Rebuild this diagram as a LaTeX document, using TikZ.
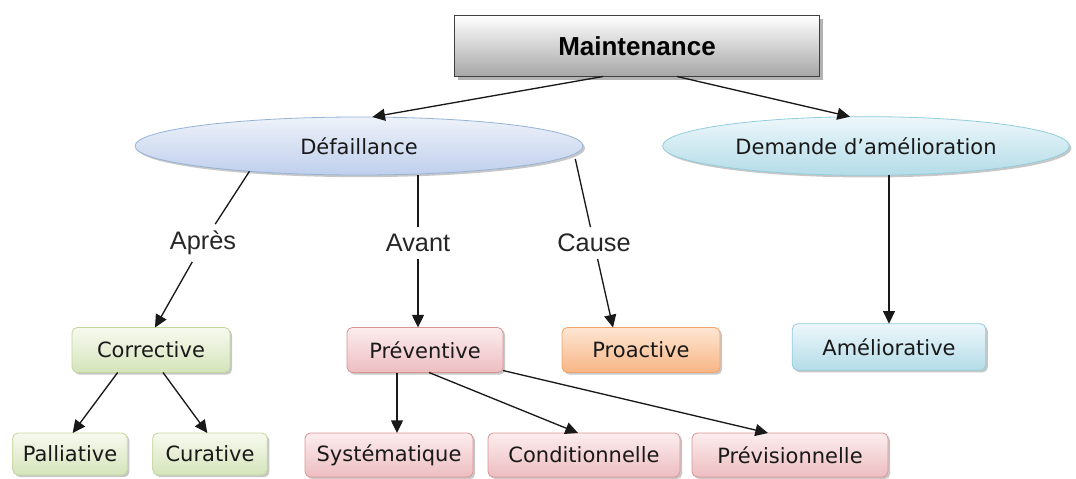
\documentclass[tikz,border=0pt]{standalone}
\usepackage{fontspec}
\setmainfont{DejaVu Sans}
\newfontfamily\labelfont{Liberation Sans}
\usetikzlibrary{arrows.meta,shapes.geometric,shadows}

\definecolor{greyTop}{HTML}{FFFFFF}
\definecolor{greyBot}{HTML}{A6A6A6}
\definecolor{greyLine}{HTML}{404040}
\definecolor{blueTop}{HTML}{EEF2FA}
\definecolor{blueBot}{HTML}{BFCFEC}
\definecolor{blueLine}{HTML}{95B3D7}
\definecolor{cyanTop}{HTML}{EDF7FB}
\definecolor{cyanBot}{HTML}{B4DCE8}
\definecolor{cyanLine}{HTML}{92CDDC}
\definecolor{greenTop}{HTML}{F7FAEF}
\definecolor{greenBot}{HTML}{D5E4BB}
\definecolor{greenLine}{HTML}{C3D69B}
\definecolor{pinkTop}{HTML}{FCEDEE}
\definecolor{pinkBot}{HTML}{EDBDC1}
\definecolor{pinkLine}{HTML}{D99594}
\definecolor{orangeTop}{HTML}{FDE6D3}
\definecolor{orangeBot}{HTML}{F8B585}
\definecolor{orangeLine}{HTML}{F2A46A}

\begin{document}
\begin{tikzpicture}[x=0.75pt,y=-0.75pt,
  txt/.style={font=\fontsize{15.75}{18}\selectfont, text=black!90},
  softshadow/.style={drop shadow={shadow xshift=1.6pt,shadow yshift=-1.6pt,fill=black,opacity=0.22}},
  box/.style={rectangle, rounded corners=4pt, line width=0.6pt, inner sep=2pt,
    outer sep=0pt, txt, softshadow},
  greenbox/.style={box, draw=greenLine, top color=greenTop, bottom color=greenBot},
  pinkbox/.style={box, draw=pinkLine, top color=pinkTop, bottom color=pinkBot},
  orangebox/.style={box, draw=orangeLine, top color=orangeTop, bottom color=orangeBot},
  cyanbox/.style={box, draw=cyanLine, top color=cyanTop, bottom color=cyanBot},
  oval/.style={ellipse, line width=0.6pt, inner sep=0pt, outer sep=0pt, txt, softshadow},
  edgelabel/.style={font=\labelfont\fontsize{19}{22}\selectfont, text=black!85, inner sep=5pt},
  conn/.style={line width=1pt, black!90},
  arr/.style={conn, -{Triangle[length=9.5pt,width=9pt]}}
]
\useasboundingbox (0,0) rectangle (1076,479);

% root
\node[rectangle, draw=greyLine, line width=0.8pt, top color=greyTop, bottom color=greyBot,
      minimum width=273.75pt, minimum height=45.75pt, outer sep=0pt,
      drop shadow={shadow xshift=2.5pt,shadow yshift=-2.5pt,fill=black,opacity=0.3},
      font=\labelfont\bfseries\fontsize{19.5}{22}\selectfont]
      (main) at (637,46) {Maintenance};

% triggers
\node[oval, draw=blueLine, top color=blueTop, bottom color=blueBot,
      minimum width=336pt, minimum height=43.5pt] (def) at (359,146) {Défaillance};
\node[oval, draw=cyanLine, top color=cyanTop, bottom color=cyanBot,
      minimum width=305pt, minimum height=44pt] (dem) at (866,146) {Demande d’amélioration};

% edge labels
\node[edgelabel] (apres) at (203,243) {Après};
\node[edgelabel] (avant) at (418,243) {Avant};
\node[edgelabel] (cause) at (594,243) {Cause};

% maintenance types
\node[greenbox, minimum width=118.5pt, minimum height=33.75pt] (corr) at (151,350) {Corrective};
\node[pinkbox, minimum width=117pt, minimum height=33.75pt] (prev) at (425,350) {Préventive};
\node[orangebox, minimum width=118.5pt, minimum height=33.75pt] (proa) at (641,350) {Proactive};
\node[cyanbox, minimum width=145pt, minimum height=35pt] (amel) at (889,347) {Améliorative};

% sub-types
\node[greenbox, minimum width=86pt, minimum height=31.5pt] (pall) at (70,454) {Palliative};
\node[greenbox, minimum width=86pt, minimum height=31.5pt] (cura) at (210,454) {Curative};
\node[pinkbox, minimum width=126pt, minimum height=33pt] (syst) at (389,455) {Systématique};
\node[pinkbox, minimum width=144pt, minimum height=33pt] (cond) at (584,455) {Conditionnelle};
\node[pinkbox, minimum width=147pt, minimum height=33pt] (previs) at (790,455) {Prévisionnelle};

% connectors from the root
\draw[arr] ([xshift=-25.5pt]main.south) -- ([xshift=10pt]def.north);
\draw[arr] ([xshift=30pt]main.south) -- ([xshift=-12pt]dem.north);

% labelled branches
\draw[conn] (def.193) -- (apres);
\draw[arr] (apres) -- ([xshift=3pt]corr.north);
\draw[conn] (def.south -| avant) -- (avant);
\draw[arr] (avant) -- (avant |- prev.north);
\draw[conn] ([yshift=-4pt]def.-2.6) -- (cause);
\draw[arr] (cause) -- ([xshift=-21pt]proa.north);
\draw[arr] (dem.south -| amel.north) -- (amel.north);

% sub-type connectors
\draw[arr] ([xshift=-25pt]corr.south) -- ([xshift=2pt]pall.north);
\draw[arr] ([xshift=9pt]corr.south) -- ([xshift=-2pt]cura.north);
\draw[arr] ([xshift=-21pt]prev.south) -- ([xshift=-21pt]prev.south |- syst.north);
\draw[arr] ([xshift=3pt]prev.south) -- ([xshift=-4.5pt]cond.north);
\draw[arr] ([yshift=1.5pt]prev.south east) -- ([xshift=-16.5pt]previs.north);
\end{tikzpicture}
\end{document}
